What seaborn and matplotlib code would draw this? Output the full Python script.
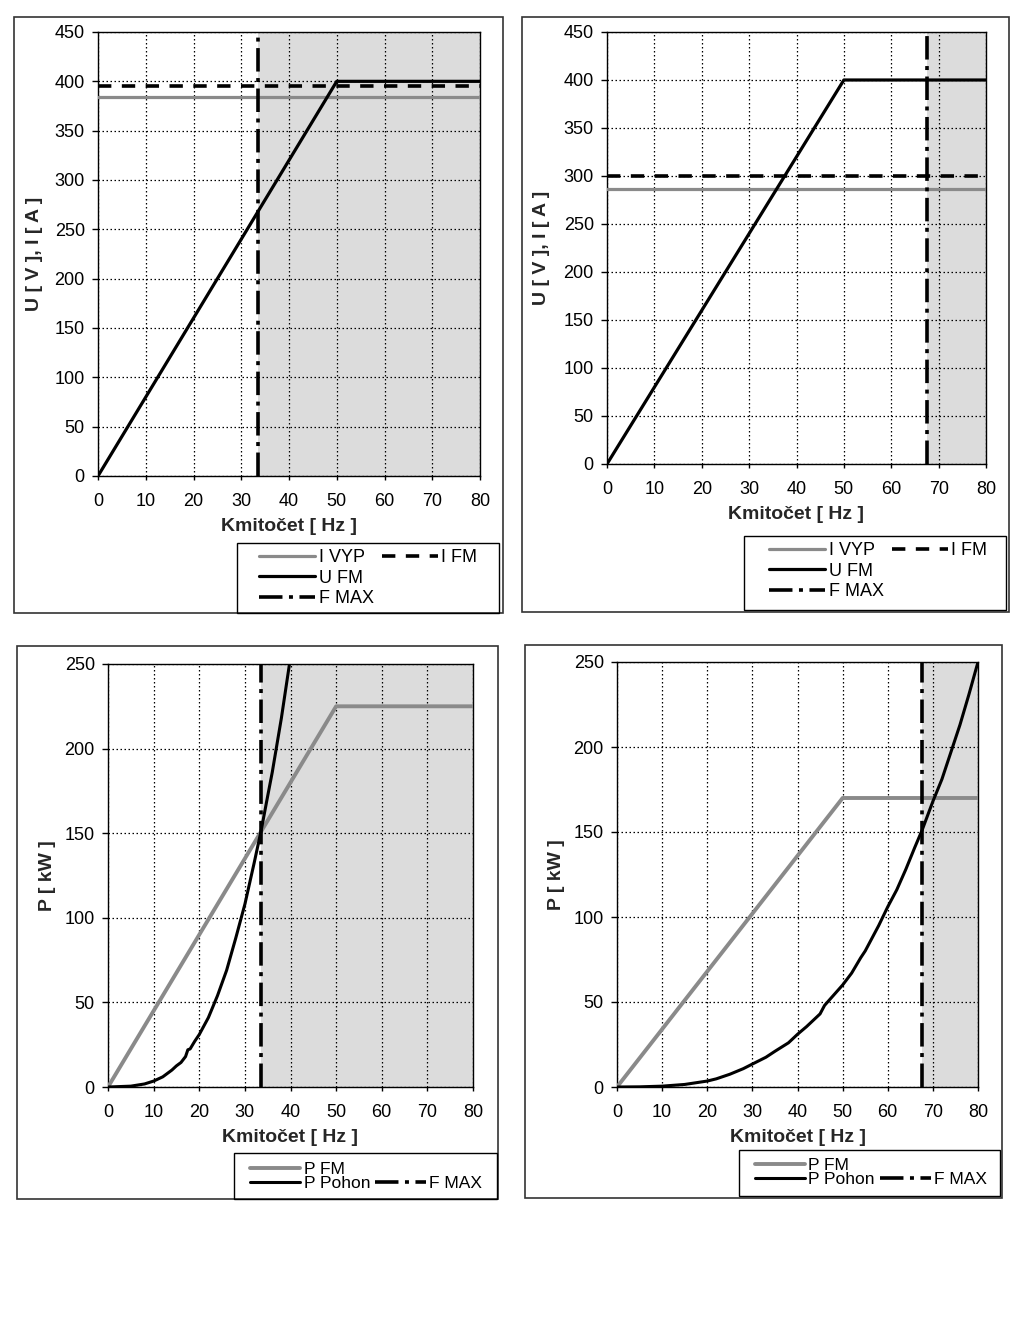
import matplotlib
matplotlib.use("Agg")
import matplotlib.pyplot as plt
from matplotlib.lines import Line2D
from matplotlib.patches import Rectangle
import seaborn as sns

# ---------------- data ----------------
freq_ticks = [0, 10, 20, 30, 40, 50, 60, 70, 80]

# top panels: voltage / current vs frequency
u_fm_f = [0, 50, 80]
u_fm_v = [0, 400, 400]
i_vyp = [384, 286]          # left, right
i_fm = [395, 300]           # left, right
f_max = [33.6, 67.6]        # left, right
ui_ticks = [0, 50, 100, 150, 200, 250, 300, 350, 400, 450]

# bottom panels: power vs frequency
p_fm_f = [0, 50, 80]
p_fm_left = [0, 225, 225]
p_fm_right = [0, 170, 170]

p_pohon_left_f = [0, 5, 8, 10, 12, 14, 15, 16, 17, 17.5, 18, 19, 20, 22, 24, 26,
                  28, 30, 32, 33.6, 35, 36, 38, 39, 40]
p_pohon_left = [0, 0.5, 1.8, 3.5, 6, 10, 12.5, 14.5, 18, 22, 22.5, 27, 31, 41, 54, 69,
                88, 108, 132, 152, 172, 186, 218, 236, 254]

p_pohon_right_f = [0, 5, 10, 15, 20, 22, 25, 28, 30, 33, 35, 38, 40, 42, 44, 45, 46,
                   47, 48, 50, 52, 54, 55, 56, 58, 60, 62, 64, 66, 67.6, 70, 72, 74,
                   76, 78, 80]
p_pohon_right = [0, 0.1, 0.5, 1.5, 3.5, 4.8, 7.5, 10.8, 13.5, 17.5, 21, 26, 31, 35.5,
                 40.5, 43, 48, 51, 54, 60, 67, 76, 80, 85, 95, 106, 116, 128, 141, 151,
                 168, 181, 197, 213, 231, 250]
p_ticks = [0, 50, 100, 150, 200, 250]

# ---------------- style ----------------
sns.set_theme(style="white")
plt.rcParams["font.family"] = ["Liberation Sans", "DejaVu Sans"]
plt.rcParams["axes.edgecolor"] = "black"
plt.rcParams["text.color"] = "black"
plt.rcParams["xtick.color"] = "black"
plt.rcParams["ytick.color"] = "black"

W, H = 1024, 1333
fig = plt.figure(figsize=(W / 100, H / 100), dpi=100)
fig.patch.set_facecolor("white")


def rect_px(l, t, r, b):
    return [l / W, 1 - b / H, (r - l) / W, (b - t) / H]


def fig_box(l, t, r, b, lw=1.0, ec="black"):
    fig.add_artist(Rectangle((l / W, 1 - b / H), (r - l) / W, (b - t) / H,
                             transform=fig.transFigure, fill=False, ec=ec, lw=lw,
                             zorder=10))


GRAY = "#8a8a8a"
SHADE = "#dcdcdc"
DASHDOT = (0, (6.5, 1.8, 1.1, 1.8))
DASHED = (0, (3.7, 2.9))
TICK_FS = 13
LABEL_FS = 14
LEG_FS = 13


def style_axes(ax, ymax, yticks, ylabel, ylabel_x):
    ax.set_xlim(0, 80)
    ax.set_ylim(0, ymax)
    ax.set_xticks(freq_ticks)
    ax.set_yticks(yticks)
    ax.grid(True, color="black", linestyle=(0, (1.2, 2.0)), linewidth=0.9)
    ax.set_axisbelow(True)
    for s in ax.spines.values():
        s.set_visible(True)
        s.set_color("black")
        s.set_linewidth(1.0)
    ax.tick_params(axis="y", direction="out", length=4, width=1, pad=5.5,
                   labelsize=TICK_FS, left=True)
    ax.tick_params(axis="x", direction="out", length=3, width=1, pad=9,
                   labelsize=TICK_FS, bottom=True)
    ax.set_xlabel("Kmitočet [ Hz ]", fontsize=LABEL_FS, fontweight="bold", labelpad=6)
    ax.set_ylabel(ylabel, fontsize=LABEL_FS, fontweight="bold")
    ax.yaxis.set_label_coords(ylabel_x, 0.5)
    ax.set_facecolor("white")


def line(ax, x, y, **kw):
    sns.lineplot(x=x, y=y, ax=ax, estimator=None, sort=False, legend=False, **kw)
    return ax.lines[-1]


blank = Line2D([], [], color="none")

# ---------------- top panels ----------------
top_specs = [
    (rect_px(98, 32, 480, 476), 0, -0.145, (14, 17, 503, 613), (237, 543, 499, 613), (250, 540)),
    (rect_px(607, 32, 986, 464), 1, -0.150, (522, 17, 1009, 612), (744, 536, 1006, 610), (760, 533)),
]
for pos, k, ylx, outer, lbox, lanchor in top_specs:
    ax = fig.add_axes(pos)
    ax.axvspan(f_max[k], 80, color=SHADE, lw=0, zorder=0.2)
    h_ivyp = line(ax, [0, 80], [i_vyp[k], i_vyp[k]], color=GRAY, lw=2.3, zorder=3)
    h_ifm = line(ax, [0, 80], [i_fm[k], i_fm[k]], color="black", lw=2.6,
                 linestyle=DASHED, zorder=3)
    h_ufm = line(ax, u_fm_f, u_fm_v, color="black", lw=2.3, zorder=4)
    h_fmax = ax.axvline(f_max[k], color="black", lw=2.6, linestyle=DASHDOT, zorder=4)
    style_axes(ax, 450, ui_ticks, "U [ V ], I [ A ]", ylx)
    fig_box(*outer, lw=1.2, ec="#333333")
    fig_box(*lbox, lw=1.0)
    fig.legend([h_ivyp, h_ufm, h_fmax, h_ifm, blank, blank],
               ["I VYP", "U FM", "F MAX", "I FM", "", ""],
               ncol=2, loc="upper left",
               bbox_to_anchor=(lanchor[0] / W, 1 - lanchor[1] / H),
               frameon=False, borderpad=0, fontsize=LEG_FS, handlelength=3.1,
               handletextpad=0.2, columnspacing=0.45, labelspacing=0.2)

# ---------------- bottom panels ----------------
bottom_specs = [
    (rect_px(108, 664, 473, 1087), p_fm_left, p_pohon_left_f, p_pohon_left, 0, -0.142,
     (17, 646, 498, 1199), (234, 1153, 497, 1199), (241, 1153)),
    (rect_px(617, 662, 978, 1087), p_fm_right, p_pohon_right_f, p_pohon_right, 1, -0.143,
     (525, 645, 1002, 1198), (739, 1150, 1000, 1196), (746, 1149)),
]
for pos, pfm, ppf, ppv, k, ylx, outer, lbox, lanchor in bottom_specs:
    ax = fig.add_axes(pos)
    ax.axvspan(f_max[k], 80, color=SHADE, lw=0, zorder=0.2)
    h_pfm = line(ax, p_fm_f, pfm, color=GRAY, lw=2.8, zorder=3)
    h_pp = line(ax, ppf, ppv, color="black", lw=2.2, zorder=4)
    h_fmax = ax.axvline(f_max[k], color="black", lw=2.6, linestyle=DASHDOT, zorder=4)
    style_axes(ax, 250, p_ticks, "P [ kW ]", ylx)
    fig_box(*outer, lw=1.2, ec="#333333")
    fig_box(*lbox, lw=1.0)
    fig.legend([h_pfm, h_pp, blank, h_fmax],
               ["P FM", "P Pohon", "", "F MAX"],
               ncol=2, loc="upper left",
               bbox_to_anchor=(lanchor[0] / W, 1 - lanchor[1] / H),
               frameon=False, borderpad=0, fontsize=12.5, handlelength=2.9,
               handletextpad=0.2, columnspacing=0.3, labelspacing=-0.05)

fig.savefig("out.png", dpi=100, facecolor="white")
